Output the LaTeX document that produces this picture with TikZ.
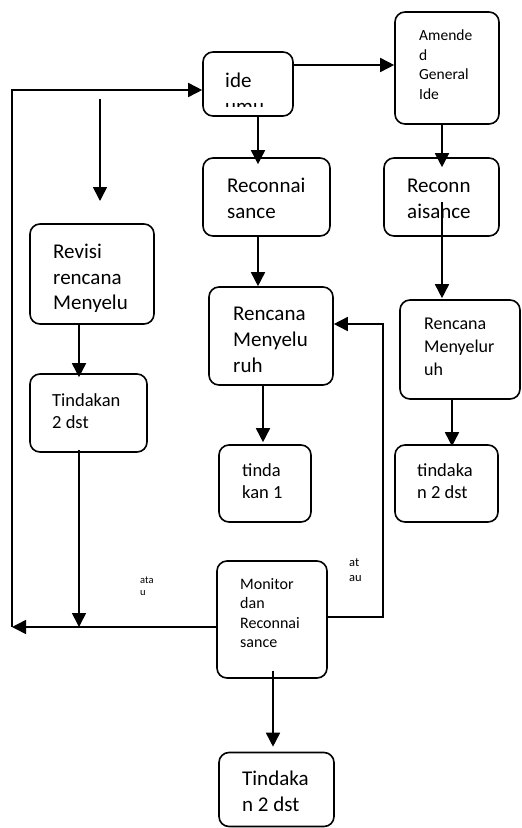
\documentclass[tikz,border=0pt]{standalone}
\usepackage{fontspec}
\setmainfont{Carlito}
\usetikzlibrary{arrows.meta}
\newcommand\setfs[1]{\fontsize{#1pt}{#1pt}\selectfont}
\tikzset{
  box/.style={draw, line width=1.6pt, rounded corners=10pt, inner sep=0pt},
  arr/.style={line width=1.6pt, -{Triangle[length=14pt,width=14pt]}},
  lbl/.style={anchor=base west, inner sep=0pt},
}
\begin{document}
\begin{tikzpicture}[x=1pt,y=-1pt]
\useasboundingbox (0,0) rectangle (522,828);
% boxes
\node[box, minimum width=90pt,  minimum height=64pt]  (ide)    at (248,84) {};
\node[box, minimum width=104pt, minimum height=112pt] (amend)  at (447,68) {};
\node[box, minimum width=127pt, minimum height=78pt]  (recon1) at (266.5,197) {};
\node[box, minimum width=115pt, minimum height=78pt]  (recon2) at (441.5,197) {};
\node[box, minimum width=124pt, minimum height=100pt] (revisi) at (92,274) {};
\node[box, minimum width=124pt, minimum height=98pt]  (renc1)  at (271,336) {};
\node[box, minimum width=120pt, minimum height=99pt]  (renc2)  at (460,349.5) {};
\node[box, minimum width=117pt, minimum height=78pt]  (tindL)  at (88.5,413) {};
\node[box, minimum width=92pt,  minimum height=77pt]  (tind1)  at (265,483.5) {};
\node[box, minimum width=103pt, minimum height=77pt]  (tindR)  at (446.5,483.5) {};
\node[box, minimum width=110pt, minimum height=117pt] (monitor) at (272,619.5) {};
\node[box, minimum width=115pt, minimum height=74pt]  (tindB)  at (276.5,789.5) {};
% texts
\begin{scope}
\clip (203,52) rectangle (293,106);
\node[lbl, font=\setfs{21}] (t-ide1) at (225,87) {ide};
\node[lbl, font=\setfs{21}] (t-ide2) at (225,113) {umu};
\end{scope}
\node[lbl, font=\setfs{15.5}] (t-am1) at (419,40.5) {Amende};
\node[lbl, font=\setfs{15.5}] (t-am2) at (419,60) {d};
\node[lbl, font=\setfs{15.5}] (t-am3) at (419,79.5) {General};
\node[lbl, font=\setfs{15.5}] (t-am4) at (419,99) {Ide};
\node[lbl, font=\setfs{21}] (t-r11) at (227,192) {Reconnai};
\node[lbl, font=\setfs{21}] (t-r12) at (227,218) {sance};
\node[lbl, font=\setfs{21}] (t-r21) at (407,192) {Reconn};
\node[lbl, font=\setfs{21}] (t-r22) at (407,218) {aisance};
\begin{scope}
\clip (30,224) rectangle (154,311);
\node[lbl, font=\setfs{21}] (t-rv1) at (53,258) {Revisi};
\node[lbl, font=\setfs{21}] (t-rv2) at (53,284) {rencana};
\node[lbl, font=\setfs{21}] (t-rv3) at (53,309.5) {Menyelu};
\end{scope}
\node[lbl, font=\setfs{21}] (t-rc11) at (233,320) {Rencana};
\node[lbl, font=\setfs{21}] (t-rc12) at (233,346) {Menyelu};
\node[lbl, font=\setfs{21}] (t-rc13) at (233,372) {ruh};
\node[lbl, font=\setfs{18}] (t-rc21) at (424,329) {Rencana};
\node[lbl, font=\setfs{18}] (t-rc22) at (424,352) {Menyelur};
\node[lbl, font=\setfs{18}] (t-rc23) at (424,375.5) {uh};
\node[lbl, font=\setfs{18.5}] (t-tl1) at (52,406) {Tindakan};
\node[lbl, font=\setfs{18.5}] (t-tl2) at (52,428.5) {2 dst};
\node[lbl, font=\setfs{18.5}] (t-t11) at (242,476) {tinda};
\node[lbl, font=\setfs{18.5}] (t-t12) at (242,498.5) {kan 1};
\node[lbl, font=\setfs{18.5}] (t-tr1) at (417,476) {tindaka};
\node[lbl, font=\setfs{18.5}] (t-tr2) at (417,498.5) {n 2 dst};
\node[lbl, font=\setfs{16}] (t-m1) at (240,589) {Monitor};
\node[lbl, font=\setfs{16}] (t-m2) at (240,608.5) {dan};
\node[lbl, font=\setfs{16}] (t-m3) at (240,628) {Reconnai};
\node[lbl, font=\setfs{16}] (t-m4) at (240,647.5) {sance};
\node[lbl, font=\setfs{21}] (t-tb1) at (242,785) {Tindaka};
\node[lbl, font=\setfs{21}] (t-tb2) at (242,811) {n 2 dst};
\node[lbl, font=\setfs{12.5}] (t-at1) at (349,566.5) {at};
\node[lbl, font=\setfs{12.5}] (t-at2) at (349,581.5) {au};
\node[lbl, font=\setfs{10.5}] (t-ata1) at (140,583) {ata};
\node[lbl, font=\setfs{10.5}] (t-ata2) at (140,595.5) {u};
% coordinates
\coordinate (lb) at (12,627);
\coordinate (lt) at (12,90);
\coordinate (ft) at (100,99);
\coordinate (fb) at (100,201);
\coordinate (rt) at (383,324);
% connectors
\draw[arr] ([yshift=19pt]ide.east) -- ([yshift=19pt]ide.east -| amend.west);
\draw[arr, shorten >=-7pt] ([xshift=10pt]ide.south) -- ([xshift=10pt]ide.south |- recon1.north);
\draw[arr, shorten >=-10pt] ([xshift=-5pt]amend.south) -- ([xshift=-5pt]amend.south |- recon2.north);
\draw[arr] ([xshift=-8.5pt]recon1.south) -- ([xshift=-8.5pt]recon1.south |- renc1.north);
\draw[arr, shorten >=1pt] ([xshift=0.5pt,yshift=-5pt]recon2.center) -- ([xshift=0.5pt]recon2.center |- renc2.north);
\draw[arr, shorten >=-4pt] ([xshift=-13pt]revisi.south) -- ([xshift=-13pt]revisi.south |- tindL.north);
\draw[arr] ([xshift=-9.5pt,yshift=3pt]tindL.south) -- ([xshift=-9.5pt]tindL.south |- lb);
\draw[arr, shorten >=2pt] ([xshift=-8pt]renc1.south) -- ([xshift=-8pt]renc1.south |- tind1.north);
\draw[arr, shorten >=-2pt] ([xshift=-8pt]renc2.south) -- ([xshift=-8pt]renc2.south |- tindR.north);
\draw[arr, shorten >=5pt] ([xshift=1pt,yshift=8pt]monitor.south) -- ([xshift=1pt]monitor.south |- tindB.north);
\draw[arr] ([yshift=2.5pt]monitor.east) -| (rt) -- ([yshift=12pt]renc1.east);
\draw[arr] ([yshift=-7.5pt]monitor.west) -- (lb);
\draw[arr] (lb) -- (lt) -- ([yshift=-6pt]ide.west);
\draw[arr] (ft) -- (fb);
\end{tikzpicture}
\end{document}
